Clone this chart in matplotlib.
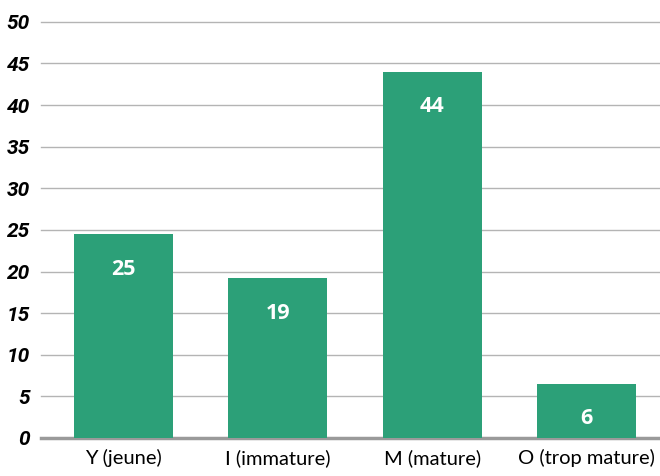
import matplotlib
matplotlib.use("Agg")
import matplotlib.pyplot as plt

# Données
categories = ["Y (jeune)", "I (immature)", "M (mature)", "O (trop mature)"]
valeurs = [24.5, 19.2, 44.0, 6.5]
etiquettes = ["25", "19", "44", "6"]
graduations = [0, 5, 10, 15, 20, 25, 30, 35, 40, 45, 50]

vert = "#2ca078"

fig = plt.figure(figsize=(6.6, 4.76), dpi=100)
ax = fig.add_axes([0.062, 0.08, 0.938, 0.874])

x = range(len(categories))
ax.bar(x, valeurs, width=0.64, color=vert, zorder=3)

for xi, v, lab in zip(x, valeurs, etiquettes):
    ax.text(xi, v - 4.2, lab, ha="center", va="center", color="white",
            fontsize=15.5, fontweight="bold", family="Open Sans", zorder=4)

ax.set_xlim(-0.534, 3.476)
ax.set_ylim(0, 50)
ax.set_yticks(graduations)
ax.set_xticks(list(x))
ax.set_xticklabels(categories, family="Lato", fontsize=14.5)
ax.set_yticklabels([str(g) for g in graduations], family="Roboto",
                   fontsize=15, fontweight="bold", style="italic")

ax.grid(axis="y", color="#b4b4b4", linewidth=1.0, zorder=0)
for g in ax.get_ygridlines():
    g.set_clip_on(False)
for s in ["top", "right", "left"]:
    ax.spines[s].set_visible(False)
ax.spines["bottom"].set_color("#9a9a9a")
ax.spines["bottom"].set_linewidth(2.5)
ax.tick_params(axis="both", length=0)
ax.tick_params(axis="y", pad=8)
ax.tick_params(axis="x", pad=8)

fig.savefig("out.png", dpi=100)
